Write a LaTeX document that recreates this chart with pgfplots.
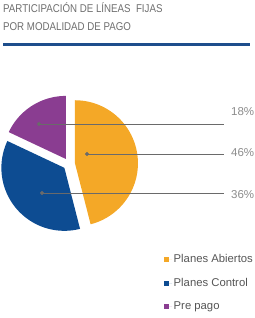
\documentclass[border=0pt]{standalone}
\usepackage{fontspec}
\setmainfont{Liberation Sans}
\newfontfamily\titlefont[FakeStretch=0.86]{Liberation Sans}
\usepackage{pgfplots}
\pgfplotsset{compat=1.18}
\definecolor{cOr}{HTML}{F4A827}
\definecolor{cBl}{HTML}{0D4C92}
\definecolor{cPu}{HTML}{8A3D91}
\definecolor{cRule}{HTML}{1E4E8C}
\definecolor{cTitle}{HTML}{6E6E6E}
\definecolor{cLab}{HTML}{8C8C8C}
\definecolor{cLeg}{HTML}{555555}
\definecolor{cLine}{HTML}{6A6A6A}
\begin{document}
\begin{tikzpicture}
% data (percent)
\def\vA{46}\def\vB{36}\def\vC{18}
\def\R{63}\def\E{6}\def\cx{69}\def\cy{154}
\pgfmathsetmacro\aA{90-3.6*\vA}
\pgfmathsetmacro\aB{\aA-3.6*\vB}
\pgfmathsetmacro\aC{\aB-3.6*\vC}
\pgfmathsetmacro\oAx{\cx+\E*cos((90+\aA)/2)}
\pgfmathsetmacro\oAy{\cy+\E*sin((90+\aA)/2)}
\pgfmathsetmacro\oBx{\cx+\E*cos((\aA+\aB)/2)}
\pgfmathsetmacro\oBy{\cy+\E*sin((\aA+\aB)/2)}
\pgfmathsetmacro\oCx{\cx+\E*cos((\aB+\aC)/2)}
\pgfmathsetmacro\oCy{\cy+\E*sin((\aB+\aC)/2)}
\useasboundingbox (0,0) rectangle (254pt,318pt);
\begin{axis}[
  at={(0,0)}, anchor=south west, scale only axis,
  width=254pt, height=318pt,
  xmin=0, xmax=254, ymin=0, ymax=318,
  hide axis, clip=false,
  legend cell align=left,
  legend image code/.code={\fill[#1] (0pt,-2.5pt) rectangle (5pt,2.5pt); \path (0pt,0pt) -- (8pt,0pt);},
  legend style={at={(axis cs:164,65)}, anchor=north west, draw=none, fill=none,
    font=\fontsize{11.3}{13}\selectfont, text=cLeg, row sep=11pt,
    inner sep=0pt, nodes={inner sep=1.5pt}},
]
\addplot[fill=cOr, draw=none, domain=\aA:90, samples=80]
  ({\oAx+\R*cos(x)},{\oAy+\R*sin(x)}) -- (\oAx,\oAy) -- cycle;
\addlegendentry{Planes Abiertos}
\addplot[fill=cBl, draw=none, domain=\aB:\aA, samples=80]
  ({\oBx+\R*cos(x)},{\oBy+\R*sin(x)}) -- (\oBx,\oBy) -- cycle;
\addlegendentry{Planes Control}
\addplot[fill=cPu, draw=none, domain=\aC:\aB, samples=80]
  ({\oCx+\R*cos(x)},{\oCy+\R*sin(x)}) -- (\oCx,\oCy) -- cycle;
\addlegendentry{Pre pago}
% leader lines
\addplot[cLine, line width=0.8pt, mark=*, mark size=1.6pt, mark indices={1}, forget plot,
  mark options={fill=cLine}] coordinates {(39,194) (224,194)};
\addplot[cLine, line width=0.8pt, mark=*, mark size=1.6pt, mark indices={1}, forget plot,
  mark options={fill=cLine}] coordinates {(87,164) (224,164)};
\addplot[cLine, line width=0.8pt, mark=*, mark size=1.6pt, mark indices={1}, forget plot,
  mark options={fill=cLine}] coordinates {(42,125) (224,125)};
\node[anchor=west, text=cLab, font=\fontsize{11.5}{13}\selectfont, inner sep=0pt] at (axis cs:231,206) {18\%};
\node[anchor=west, text=cLab, font=\fontsize{11.5}{13}\selectfont, inner sep=0pt] at (axis cs:231,165) {46\%};
\node[anchor=west, text=cLab, font=\fontsize{11.5}{13}\selectfont, inner sep=0pt] at (axis cs:231,123) {36\%};
% title
\node[anchor=west, text=cTitle, font=\titlefont\fontsize{11.3}{13}\selectfont, inner sep=0pt] at (axis cs:3,310) {PARTICIPACIÓN DE LÍNEAS\ \ FIJAS};
\node[anchor=west, text=cTitle, font=\titlefont\fontsize{11.3}{13}\selectfont, inner sep=0pt] at (axis cs:3,291) {POR MODALIDAD DE PAGO};
\draw[cRule, line width=3pt] (axis cs:3,273.5) -- (axis cs:250,273.5);
\end{axis}
\end{tikzpicture}
\end{document}
